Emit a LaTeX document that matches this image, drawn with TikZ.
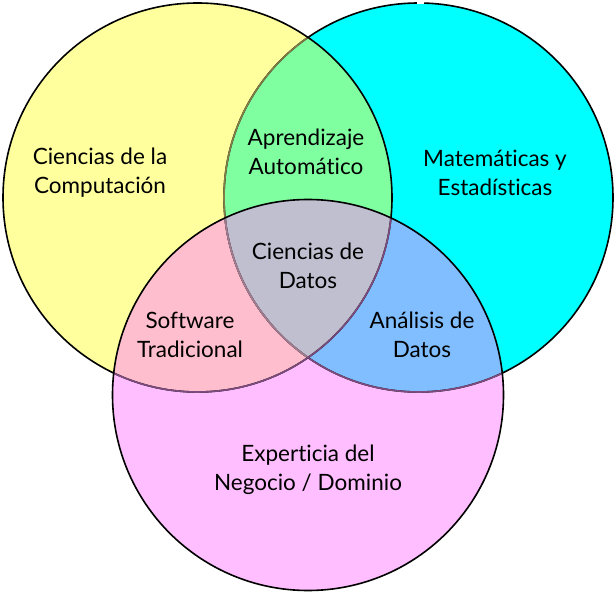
\documentclass[tikz,border=0pt]{standalone}
\usepackage{fontspec}
\setmainfont{Lato}[Ligatures=NoCommon]
\definecolor{yel}{RGB}{255,255,158}
\definecolor{cyanC}{RGB}{0,255,255}
\definecolor{greenC}{RGB}{128,255,160}
\definecolor{pinkC}{RGB}{255,190,255}
\definecolor{pinkY}{RGB}{255,190,205}
\definecolor{blueC}{RGB}{128,190,255}
\definecolor{grayC}{RGB}{191,191,208}
\definecolor{oliveL}{RGB}{130,125,70}
\definecolor{purpL}{RGB}{125,75,125}
\definecolor{grayL}{RGB}{160,125,145}
\begin{document}
\begin{tikzpicture}[x=1pt,y=-1pt,
  lab/.style={align=center, font=\fontsize{22.5}{29}\selectfont, text=black, inner sep=0pt},
  edge/.style={line width=1.6pt}]
\useasboundingbox (0,0) rectangle (616,593);
\def\Ycirc{(197.5,197.5) circle (194.5pt)}
\def\Ccirc{(418.5,197.5) circle (194.5pt)}
\def\Pcirc{(308,395) circle (195.5pt)}
% fills
\fill[cyanC] \Ccirc;
\fill[yel] \Ycirc;
\fill[pinkC] \Pcirc;
\begin{scope}
  \clip \Ycirc;
  \fill[greenC] \Ccirc;
  \fill[pinkY] \Pcirc;
\end{scope}
\begin{scope}
  \clip \Ccirc;
  \fill[blueC] \Pcirc;
  \clip \Ycirc;
  \fill[grayC] \Pcirc;
\end{scope}
% outlines
\draw[edge] \Ccirc;
\begin{scope}
  \clip \Ycirc;
  \draw[edge, oliveL] \Ccirc;
\end{scope}
\begin{scope}
  \clip \Pcirc;
  \draw[edge, purpL] \Ccirc;
  \clip \Ycirc;
  \draw[edge, grayL] \Ccirc;
\end{scope}
\draw[edge] \Ycirc;
\begin{scope}
  \clip \Pcirc;
  \draw[edge, purpL] \Ycirc;
\end{scope}
\draw[edge] \Pcirc;
\fill[white] (417,0) rectangle (424,4.5);
% labels
\node[lab] (cc) at (100,173) {Ciencias de la\\Computación};
\node[lab] (ml) at (306,152) {Aprendizaje\\Automático};
\node[lab] (me) at (495,173) {Matemáticas y\\Estadísticas};
\node[lab] (ds) at (308,266) {Ciencias de\\Datos};
\node[lab] (sw) at (190,335) {Software\\Tradicional};
\node[lab] (ad) at (422,335) {Análisis de\\Datos};
\node[lab] (ex) at (308,470) {Experticia del\\Negocio / Dominio};
\end{tikzpicture}
\end{document}
